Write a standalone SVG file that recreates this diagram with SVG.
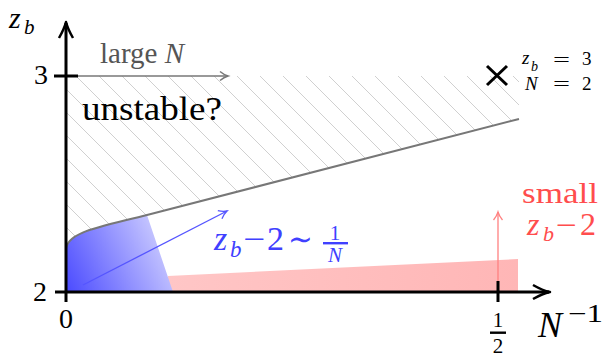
<svg xmlns="http://www.w3.org/2000/svg" width="609" height="360" viewBox="0 0 609 360">
<style>
text{font-family:"Liberation Serif","Times New Roman",serif;}
.it{font-style:italic;}
.ax{stroke:#000;stroke-width:3;fill:none;}
.ah{stroke:#000;stroke-width:2.5;fill:none;stroke-linejoin:round;}
</style>
<defs>
<pattern id="hatch" patternUnits="userSpaceOnUse" width="23" height="23">
<path d="M-5,-5 L28,28 M-5,18 L5,28 M18,-5 L28,5" stroke="#d0d0d0" stroke-width="1"/>
</pattern>
<linearGradient id="blueg" gradientUnits="userSpaceOnUse" x1="66" y1="292" x2="175" y2="240">
<stop offset="0" stop-color="#4a4aff"/>
<stop offset="1" stop-color="#d4d4ff"/>
</linearGradient>
<linearGradient id="redg" gradientUnits="userSpaceOnUse" x1="168" y1="0" x2="518" y2="0">
<stop offset="0" stop-color="#ffc6c6"/>
<stop offset="1" stop-color="#ffb6b6"/>
</linearGradient>
<marker id="agray" markerUnits="userSpaceOnUse" markerWidth="14" markerHeight="14" refX="0" refY="0" viewBox="-10 -7 12 14" orient="auto">
<path d="M-8,-4.5 C-5,-2 -2,-0.6 0,0 C-2,0.6 -5,2 -8,4.5" stroke="#777" stroke-width="1.5" fill="none"/>
</marker>
<marker id="ablue" markerUnits="userSpaceOnUse" markerWidth="14" markerHeight="14" refX="0" refY="0" viewBox="-10 -7 12 14" orient="auto">
<path d="M-8,-4.5 C-5,-2 -2,-0.6 0,0 C-2,0.6 -5,2 -8,4.5" stroke="#5555ff" stroke-width="1.3" fill="none"/>
</marker>
<marker id="ared" markerUnits="userSpaceOnUse" markerWidth="14" markerHeight="14" refX="0" refY="0" viewBox="-10 -7 12 14" orient="auto">
<path d="M-8,-4.5 C-5,-2 -2,-0.6 0,0 C-2,0.6 -5,2 -8,4.5" stroke="#ff8080" stroke-width="1.3" fill="none"/>
</marker>
</defs>
<rect width="609" height="360" fill="#fff"/>

<g id="unstable-region">
<path d="M66,76 L519,76 L519,119 L147,215 C100,227 66,232 66,250 Z" fill="url(#hatch)"/>
</g>
<g id="small-region">
<path d="M168,276 L518,259 L518,292 L168,292 Z" fill="url(#redg)"/>
</g>
<g id="blue-region">
<path d="M66,292 L66,250 C66,232 100,227 147,215 L173,292 Z" fill="url(#blueg)"/>
</g>
<g id="boundary">
<path d="M66,250 C66,232 100,227 147,215 L519,119" stroke="#777" stroke-width="2" fill="none"/>
</g>

<g id="connectors">
<line x1="77" y1="76" x2="228" y2="76" stroke="#777" stroke-width="1.5" marker-end="url(#agray)"/>
<line x1="83" y1="285" x2="227" y2="211" stroke="#5555ff" stroke-width="1.3" marker-end="url(#ablue)"/>
<line x1="498" y1="292" x2="498" y2="212" stroke="#ff8080" stroke-width="1.3" marker-end="url(#ared)"/>
</g>

<g id="axes">
<line class="ax" x1="55" y1="292" x2="549" y2="292"/>
<path class="ah" d="M533,285 C540,289 545,291 550,292 C545,293 540,295 533,299"/>
<line class="ax" x1="66" y1="302" x2="66" y2="23"/>
<path class="ah" d="M59,38 C63,31 65,26 66,22 C67,26 69,31 73,38"/>
<line class="ax" x1="54" y1="76" x2="78" y2="76"/>
<line class="ax" x1="498" y1="281" x2="498" y2="302"/>
</g>

<g id="labels">
<text x="9" y="28" font-size="30" class="it">z</text>
<text x="24" y="34" font-size="21" class="it">b</text>
<text x="41" y="84" font-size="28" text-anchor="middle">3</text>
<text x="40" y="301" font-size="28" text-anchor="middle">2</text>
<text x="66" y="328" font-size="28" text-anchor="middle">0</text>
<text x="100" y="63" font-size="29" fill="#555">large <tspan class="it">N</tspan></text>
<text x="82" y="120" font-size="34" textLength="140" lengthAdjust="spacingAndGlyphs">unstable?</text>
</g>

<g id="blue-label" fill="#4040ff">
<text x="214" y="250" font-size="34" class="it">z</text>
<text x="230" y="257" font-size="23" class="it">b</text>
<text x="243" y="250" font-size="32" textLength="22" lengthAdjust="spacingAndGlyphs">−</text>
<text x="267" y="250" font-size="34">2</text>
<text x="288" y="250" font-size="32" textLength="25" lengthAdjust="spacingAndGlyphs">∼</text>
<text x="335" y="240" font-size="21" text-anchor="middle">1</text>
<rect x="323" y="242" width="25" height="2.4"/>
<text x="335" y="262" font-size="21" text-anchor="middle" class="it">N</text>
</g>

<g id="red-label" fill="#ff4d4d">
<text x="522" y="203" font-size="30" textLength="76" lengthAdjust="spacingAndGlyphs">small</text>
<text x="527" y="235" font-size="32" class="it">z</text>
<text x="543" y="241" font-size="22" class="it">b</text>
<text x="556" y="235" font-size="30" textLength="21" lengthAdjust="spacingAndGlyphs">−</text>
<text x="580" y="235" font-size="32">2</text>
</g>

<g id="marker-point">
<path d="M487,66 L507,85 M507,66 L487,85" stroke="#000" stroke-width="3" fill="none"/>
<text x="522" y="64" font-size="19" class="it">z</text>
<text x="531" y="71" font-size="14" class="it">b</text>
<text x="553" y="66" font-size="19" textLength="17" lengthAdjust="spacingAndGlyphs">=</text>
<text x="582" y="65" font-size="19">3</text>
<text x="525" y="90" font-size="19" class="it">N</text>
<text x="553" y="90" font-size="19" textLength="17" lengthAdjust="spacingAndGlyphs">=</text>
<text x="582" y="90" font-size="19">2</text>
</g>

<g id="x-labels">
<text x="498" y="327" font-size="21" text-anchor="middle">1</text>
<rect x="490" y="331.5" width="16" height="2.4"/>
<text x="498" y="353" font-size="21" text-anchor="middle">2</text>
<text x="538" y="337" font-size="36" class="it">N</text>
<text x="568" y="322" font-size="25" textLength="35" lengthAdjust="spacingAndGlyphs">−1</text>
</g>
</svg>
